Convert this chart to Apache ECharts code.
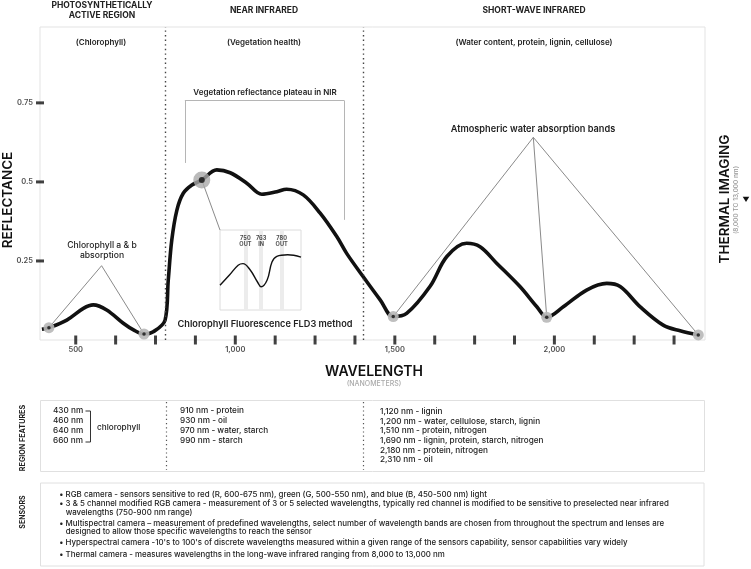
<!DOCTYPE html>
<html><head><meta charset="utf-8">
<script src="https://cdn.jsdelivr.net/npm/echarts@6/dist/echarts.min.js"></script>
<style>html,body{margin:0;padding:0;background:#fff}#c{width:751px;height:569px}</style>
</head><body><div id="c"></div>
<script>
// ---- data ----
const wavelengths = [394,416,472,524,555,597,649,681,714,743,780,790,801,817,837,864,895,942,984,1036,1083,1130,1161,1213,1266,1318,1349,1401,1454,1495,1537,1610,1663,1725,1767,1819,1892,1945,1976,2028,2101,2164,2206,2269,2341,2394,2451];
const reflectance = [0.034,0.039,0.063,0.100,0.111,0.095,0.053,0.032,0.019,0.026,0.063,0.190,0.316,0.411,0.464,0.490,0.506,0.538,0.529,0.496,0.461,0.469,0.477,0.459,0.401,0.327,0.274,0.200,0.127,0.074,0.084,0.169,0.264,0.306,0.295,0.243,0.169,0.105,0.072,0.105,0.158,0.179,0.169,0.105,0.047,0.029,0.016];
const markerWavelengths = [416, 714, 1495, 1976, 2451];
const highlightWavelength = 895;
const regionBoundaries = [780, 1400];
const xTickValues = [500,625,750,875,1000,1125,1250,1375,1500,1625,1750,1875,2000,2125,2250,2375];
const xLabelValues = [500,1000,1500,2000];
const yTickValues = [0.25,0.5,0.75];
const insetWavelengths = [729,737,744,748,754,760,763,768,772,776,785,796];
const insetSignal = [0.31,0.44,0.56,0.58,0.50,0.35,0.29,0.375,0.60,0.67,0.69,0.66];
const insetBands = [750,763,780];
const insetBandLabels = ['750\nOUT','763\nIN','780\nOUT'];
const chlorophyllApex = [581, 0.235];
const waterApex = [1934, 0.641];
const waterMarkers = [1495, 1976, 2451];
const chlorophyllMarkers = [416, 714];
const plateauBracket = [[842, 0.56],[842, 0.757],[1342, 0.757],[1342, 0.38]];
const insetAnchor = [952, 0.348];

const regionFeatures1 = ['430 nm','460 nm','640 nm','660 nm'];
const regionFeatures2 = ['910 nm - protein','930 nm - oil','970 nm - water, starch','990 nm - starch'];
const regionFeatures3 = ['1,120 nm - lignin','1,200 nm - water, cellulose, starch, lignin','1,510 nm - protein, nitrogen','1,690 nm - lignin, protein, starch, nitrogen','2,180 nm - protein, nitrogen','2,310 nm - oil'];
const sensorLines = [
  ['• RGB camera - sensors sensitive to red (R, 600-675 nm), green (G, 500-550 nm), and blue (B, 450-500 nm) light', 0],
  ['• 3 & 5 channel modified RGB camera - measurement of 3 or 5 selected wavelengths, typically red channel is modified to be sensitive to preselected near infrared', 0],
  ['wavelengths (750-900 nm range)', 1],
  ['• Multispectral camera – measurement of predefined wavelengths, select number of wavelength bands are chosen from throughout the spectrum and lenses are', 0],
  ['designed to allow those specific wavelengths to reach the sensor', 1],
  ["• Hyperspectral camera -10's to 100's of discrete wavelengths measured within a given range of the sensors capability, sensor capabilities vary widely", 0],
  ['• Thermal camera - measures wavelengths in the long-wave infrared ranging from 8,000 to 13,000 nm', 0]
];

// ---- helpers ----
const pt = w => [w, reflectance[wavelengths.indexOf(w)]];
const curve = wavelengths.map((w, i) => [w, reflectance[i]]);
const FONT = 'Inter, "Noto Sans", sans-serif';
function T(text, x, y, size, weight, color, align, rot) {
  return { type: 'text', x: x, y: y, rotation: rot || 0, z: 100,
    style: { text: text, x: 0, y: 0, font: weight + ' ' + size + 'px ' + FONT, fill: color || '#222',
      align: align || 'center', verticalAlign: 'middle', textAlign: align || 'center', textVerticalAlign: 'middle' } };
}
function L(x1, y1, x2, y2, color, dash, w) {
  return { type: 'line', z: 90, shape: { x1, y1, x2, y2 }, style: { stroke: color, lineWidth: w || 1, lineDash: dash || null } };
}

const annotationLines = [];
chlorophyllMarkers.forEach(w => annotationLines.push([{ coord: chlorophyllApex }, { coord: pt(w) }]));
waterMarkers.forEach(w => annotationLines.push([{ coord: waterApex }, { coord: pt(w) }]));
annotationLines.push([{ coord: pt(highlightWavelength) }, { coord: insetAnchor }]);
for (let i = 0; i < plateauBracket.length - 1; i++) {
  annotationLines.push([{ coord: plateauBracket[i], lineStyle: { color: '#b5b5b5' } }, { coord: plateauBracket[i + 1] }]);
}

const graphics = [
  T('PHOTOSYNTHETICALLY', 102, 5.5, 8.5, 700),
  T('ACTIVE REGION', 102, 15.3, 8.5, 700),
  T('NEAR INFRARED', 264, 10.8, 8.5, 700),
  T('SHORT-WAVE INFRARED', 534, 10.8, 8.5, 700),
  T('(Chlorophyll)', 101, 42.5, 8, 600),
  T('(Vegetation health)', 264, 42.5, 8, 600),
  T('(Water content, protein, lignin, cellulose)', 534, 42.5, 8, 600),
  T('Chlorophyll a & b', 102, 245, 8.6, 500),
  T('absorption', 102, 255.5, 8.6, 500),
  T('Vegetation reflectance plateau in NIR', 265, 92.7, 8, 600),
  T('Atmospheric water absorption bands', 533, 129.3, 9.2, 600),
  T('Chlorophyll Fluorescence FLD3 method', 265, 324, 9.2, 600),
  T('REFLECTANCE', 8, 200, 13.5, 600, '#111', 'center', Math.PI / 2),
  T('THERMAL IMAGING', 725, 199, 13.5, 600, '#111', 'center', Math.PI / 2),
  T('(8,000 TO 13,000 nm)', 736, 200, 6.5, 500, '#999', 'center', Math.PI / 2),
  { type: 'polygon', z: 100, shape: { points: [[742.7, 196.7], [749.3, 196.7], [746, 202]] }, style: { fill: '#111' } },
  T('WAVELENGTH', 374, 372, 14, 600, '#111'),
  T('(NANOMETERS)', 374, 383.5, 7, 500, '#aaa'),
  // region features box
  { type: 'rect', z: 80, shape: { x: 40.5, y: 400.5, width: 664, height: 71 }, style: { fill: '#fff', stroke: '#e0e0e0', lineWidth: 1 } },
  T('REGION FEATURES', 22.5, 438, 7.2, 700, '#222', 'center', Math.PI / 2),
  L(166.5, 402, 166.5, 470, '#555', [1.2, 3], 1.2),
  L(363.5, 402, 363.5, 470, '#555', [1.2, 3], 1.2),
  { type: 'polyline', z: 90, shape: { points: [[85.5, 411], [90.5, 411], [90.5, 442], [85.5, 442]] }, style: { stroke: '#333', lineWidth: 1, fill: null } },
  T('chlorophyll', 97, 428, 8.2, 500, '#222', 'left'),
  // sensors box
  { type: 'rect', z: 80, shape: { x: 40.5, y: 483, width: 663.5, height: 83 }, style: { fill: '#fff', stroke: '#e0e0e0', lineWidth: 1 } },
  T('SENSORS', 22.5, 512, 7, 700, '#222', 'center', Math.PI / 2)
];
regionFeatures1.forEach((s, i) => graphics.push(T(s, 53, 411 + i * 10, 8.2, 500, '#222', 'left')));
regionFeatures2.forEach((s, i) => graphics.push(T(s, 180, 411 + i * 10, 8.2, 500, '#222', 'left')));
regionFeatures3.forEach((s, i) => graphics.push(T(s, 380, 411.5 + i * 9.7, 8.2, 500, '#222', 'left')));
const sensorY = [494.7, 503.9, 512.4, 523.7, 531.6, 543, 554.7];
sensorLines.forEach((s, i) => graphics.push(T(s[0], s[1] ? 65.7 : 59.3, sensorY[i], 7.9, 500, '#222', 'left')));

const option = {
  backgroundColor: '#fff',
  animation: false,
  grid: [
    { left: 40, right: 46, top: 27, bottom: 229, show: true, borderColor: '#e3e3e3', borderWidth: 1, backgroundColor: 'transparent' },
    { left: 220, top: 230, width: 81, height: 80, show: true, borderColor: '#dcdcdc', borderWidth: 1, backgroundColor: '#fff', z: 5 }
  ],
  xAxis: [
    { type: 'value', gridIndex: 0, min: 388, max: 2472, axisLine: { show: false }, axisTick: { show: false }, axisLabel: { show: false }, splitLine: { show: false } },
    { type: 'value', gridIndex: 1, min: 729, max: 796, show: false, splitLine: { show: false } }
  ],
  yAxis: [
    { type: 'value', gridIndex: 0, min: 0, max: 0.99, axisLine: { show: false }, axisTick: { show: false }, axisLabel: { show: false }, splitLine: { show: false } },
    { type: 'value', gridIndex: 1, min: 0, max: 1, show: false, splitLine: { show: false } }
  ],
  series: [
    { name: 'regions', type: 'line', data: [], z: 1, silent: true,
      markLine: { silent: true, symbol: 'none', label: { show: false },
        lineStyle: { color: '#444', width: 1.4, type: [1.4, 3.2] },
        data: regionBoundaries.map(v => ({ xAxis: v })) } },
    { name: 'annotations', type: 'line', data: [], z: 2, silent: true,
      markLine: { silent: true, symbol: 'none', label: { show: false },
        lineStyle: { color: '#8a8a8a', width: 1, type: 'solid' }, data: annotationLines } },
    { name: 'Reflectance', type: 'line', data: curve, smooth: 0.35, showSymbol: false, z: 3,
      lineStyle: { color: '#111', width: 3.6 } },
    { name: 'xTicks', type: 'scatter', data: xTickValues.map(v => [v, 0]), symbol: 'rect', symbolSize: [3, 9], clip: false, z: 4,
      itemStyle: { color: '#111' } },
    { name: 'xLabels', type: 'scatter', data: xLabelValues.map(v => [v, 0]), symbolSize: 1, clip: false, z: 4,
      itemStyle: { color: 'rgba(0,0,0,0)' },
      label: { show: true, position: 'bottom', distance: 5, fontSize: 7.5, fontWeight: 600, color: '#222', fontFamily: FONT,
        formatter: p => p.value[0].toLocaleString('en-US') } },
    { name: 'yTicks', type: 'scatter', data: yTickValues.map(v => [388, v]), symbol: 'rect', symbolSize: [8, 3], clip: false, z: 4,
      itemStyle: { color: '#111' },
      label: { show: true, position: 'left', distance: 3, fontSize: 7.5, fontWeight: 600, color: '#222', fontFamily: FONT,
        formatter: p => String(p.value[1]) } },
    { name: 'markerHalo', type: 'scatter', data: markerWavelengths.map(pt), symbolSize: 11, clip: false, z: 5,
      itemStyle: { color: '#b8b8b8', opacity: 0.9 } },
    { name: 'markerDot', type: 'scatter', data: markerWavelengths.map(pt), symbolSize: 3.5, clip: false, z: 6,
      itemStyle: { color: '#111' } },
    { name: 'highlightHalo', type: 'scatter', data: [pt(highlightWavelength)], symbolSize: 17, clip: false, z: 5,
      itemStyle: { color: '#a9a9a9' } },
    { name: 'highlightDot', type: 'scatter', data: [pt(highlightWavelength)], symbolSize: 6, clip: false, z: 6,
      itemStyle: { color: '#111' } },
    // inset
    { name: 'insetBands', type: 'line', xAxisIndex: 1, yAxisIndex: 1, data: [], z: 6, silent: true,
      markLine: { silent: true, symbol: 'none', label: { show: false },
        lineStyle: { color: '#ececec', width: 4, type: 'solid' }, data: insetBands.map(v => ({ xAxis: v })) } },
    { name: 'insetBandLabels', type: 'scatter', xAxisIndex: 1, yAxisIndex: 1, symbolSize: 1, z: 8,
      data: insetBands.map((v, i) => ({ value: [v, 0.86], name: insetBandLabels[i] })),
      itemStyle: { color: 'rgba(0,0,0,0)' },
      label: { show: true, position: 'inside', fontSize: 5.6, fontWeight: 700, lineHeight: 5.6, color: '#222', fontFamily: FONT,
        formatter: p => p.name } },
    { name: 'insetSignal', type: 'line', xAxisIndex: 1, yAxisIndex: 1, z: 7, smooth: 0.4, showSymbol: false,
      data: insetWavelengths.map((w, i) => [w, insetSignal[i]]),
      lineStyle: { color: '#111', width: 1.4 } }
  ],
  graphic: { elements: graphics }
};
const chart = echarts.init(document.getElementById('c'), null, { renderer: 'canvas' });
chart.setOption(option);
</script>
</body></html>
